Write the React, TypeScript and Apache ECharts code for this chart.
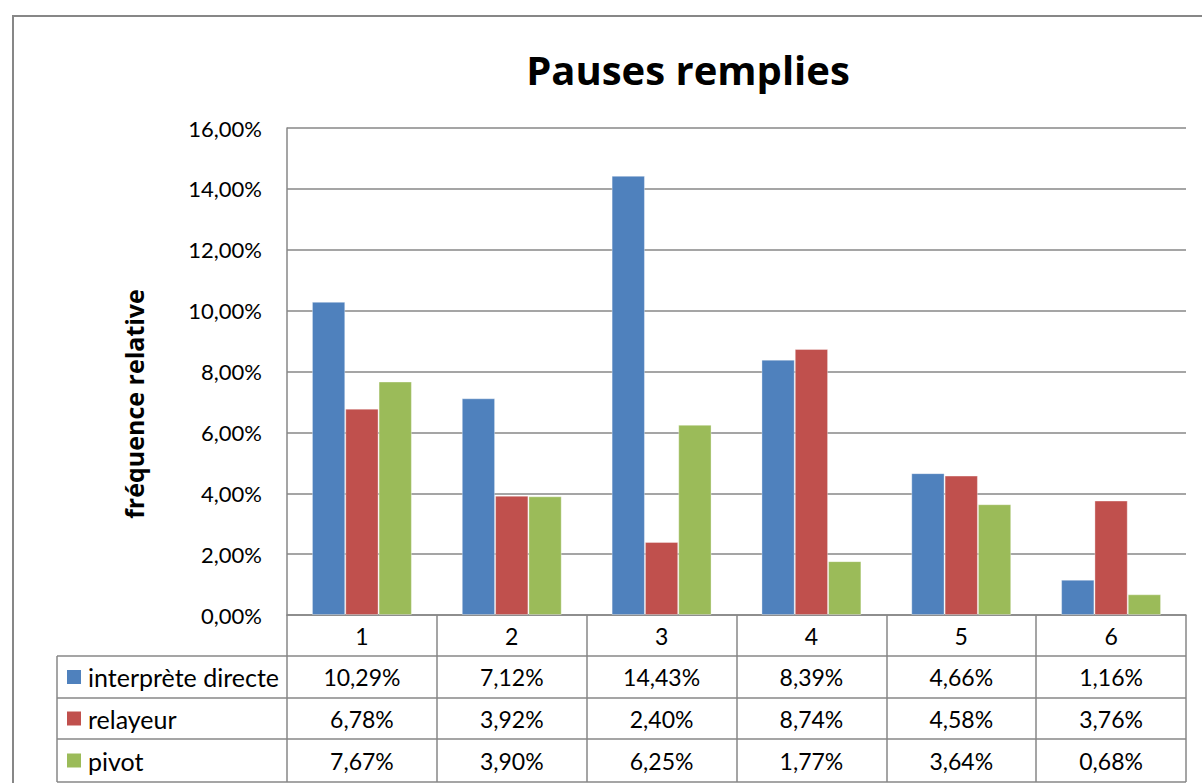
import React, { useEffect, useRef } from "react";
import * as echarts from "echarts";

const categories = ["1", "2", "3", "4", "5", "6"];
const seriesNames = ["interprète directe", "relayeur", "pivot"];
const interpreteDirecte = [10.29, 7.12, 14.43, 8.39, 4.66, 1.16];
const relayeur = [6.78, 3.92, 2.4, 8.74, 4.58, 3.76];
const pivot = [7.67, 3.9, 6.25, 1.77, 3.64, 0.68];
const seriesValues = [interpreteDirecte, relayeur, pivot];
const colors = ["#4F81BD", "#C0504D", "#9BBB59"];
const titleText = "Pauses remplies";
const yAxisTitle = "fréquence relative";

const W = 1202;
const H = 783;
const GRID_LEFT = 287;
const GRID_RIGHT_X = 1186;
const GRID_TOP = 128;
const GRID_BOTTOM_Y = 615;
const ROW_Y = [615, 656, 698, 739, 782];
const TABLE_LEFT = 57;
const LINE = "#878787";
const FONT = "Lato, 'Open Sans', sans-serif";
const BOLD_FONT = "'Open Sans', Lato, sans-serif";

const fmt = (v: number) => v.toFixed(2).replace(".", ",") + "%";

export default function App() {
  const ref = useRef<HTMLDivElement>(null);
  useEffect(() => {
    if (!ref.current) return;
    const chart = echarts.init(ref.current, null, { renderer: "svg" });

    const graphics: any[] = [];
    graphics.push({
      type: "rect",
      shape: { x: 13, y: 16, width: 1200, height: 790 },
      style: { fill: "none", stroke: LINE, lineWidth: 2 },
      silent: true,
    });
    graphics.push({
      type: "text",
      x: 688,
      y: 69,
      style: {
        text: titleText,
        font: `bold 40px ${BOLD_FONT}`,
        fill: "#000",
        align: "center",
        verticalAlign: "middle",
      },
    });
    graphics.push({
      type: "text",
      x: 134,
      y: 404,
      rotation: Math.PI / 2,
      style: {
        text: yAxisTitle,
        font: `bold 25px ${BOLD_FONT}`,
        fill: "#000",
        align: "center",
        verticalAlign: "middle",
      },
    });
    for (let r = 1; r < ROW_Y.length; r++) {
      graphics.push({
        type: "line",
        shape: { x1: TABLE_LEFT, y1: ROW_Y[r], x2: GRID_RIGHT_X, y2: ROW_Y[r] },
        style: { stroke: LINE, lineWidth: 1.5 },
        silent: true,
      });
    }
    graphics.push({
      type: "line",
      shape: { x1: TABLE_LEFT, y1: ROW_Y[1], x2: TABLE_LEFT, y2: ROW_Y[4] },
      style: { stroke: LINE, lineWidth: 1.5 },
      silent: true,
    });
    seriesNames.forEach((name, i) => {
      const cy = (ROW_Y[i + 1] + ROW_Y[i + 2]) / 2;
      graphics.push({
        type: "rect",
        shape: { x: 67, y: cy - 7, width: 14, height: 14 },
        style: { fill: colors[i] },
      });
      graphics.push({
        type: "text",
        x: 88,
        y: cy,
        style: {
          text: name,
          font: `25px ${FONT}`,
          fill: "#000",
          align: "left",
          verticalAlign: "middle",
        },
      });
    });

    const extraAxes = seriesValues.map((vals, i) => ({
      type: "category",
      gridIndex: 0,
      position: "bottom",
      offset: ROW_Y[i + 1] - GRID_BOTTOM_Y,
      data: categories,
      axisLine: { show: false },
      axisTick: { show: false },
      axisLabel: {
        interval: 0,
        margin: (ROW_Y[i + 2] - ROW_Y[i + 1]) / 2,
        verticalAlign: "middle",
        fontFamily: FONT,
        fontSize: 23,
        color: "#000",
        formatter: (_v: string, idx: number) => fmt(vals[idx]),
      },
    }));

    chart.setOption({
      animation: false,
      backgroundColor: "#fff",
      grid: {
        left: GRID_LEFT,
        right: W - GRID_RIGHT_X,
        top: GRID_TOP,
        bottom: H - GRID_BOTTOM_Y,
        containLabel: false,
      },
      xAxis: [
        {
          type: "category",
          data: categories,
          axisLine: { show: true, lineStyle: { color: LINE, width: 1.5 } },
          axisTick: {
            show: true,
            interval: 0,
            length: ROW_Y[4] - GRID_BOTTOM_Y,
            lineStyle: { color: LINE, width: 1.5 },
          },
          axisLabel: {
            interval: 0,
            margin: (ROW_Y[1] - ROW_Y[0]) / 2,
            verticalAlign: "middle",
            fontFamily: FONT,
            fontSize: 23,
            color: "#000",
          },
        },
        ...extraAxes,
      ],
      yAxis: {
        type: "value",
        min: 0,
        max: 16,
        interval: 2,
        axisLine: { show: true, lineStyle: { color: LINE, width: 1.5 } },
        axisTick: { show: false },
        splitLine: { lineStyle: { color: LINE, width: 1.5 } },
        axisLabel: {
          margin: 25,
          fontFamily: FONT,
          fontSize: 22,
          color: "#000",
          formatter: (v: number) => fmt(v),
        },
      },
      series: seriesValues.map((vals, i) => ({
        type: "bar",
        name: seriesNames[i],
        data: vals,
        barGap: "0%",
        barCategoryGap: "33.3%",
        itemStyle: {
          color: colors[i],
          borderColor: "rgba(255,255,255,0.35)",
          borderWidth: 1,
        },
      })),
      graphic: graphics,
    });
    return () => chart.dispose();
  }, []);
  return (
    <div
      ref={ref}
      style={{ position: "fixed", left: 0, top: 0, width: W, height: H }}
    />
  );
}
